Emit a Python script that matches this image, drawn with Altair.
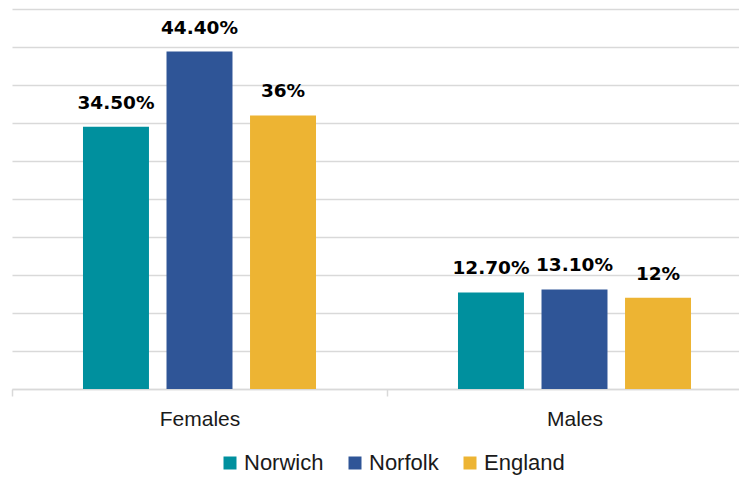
import altair as alt
import pandas as pd

categories = ["Females", "Males"]
series = ["Norwich", "Norfolk", "England"]
norwich = [34.5, 12.7]
norfolk = [44.4, 13.1]
england = [36.0, 12.0]
norwich_labels = ["34.50%", "12.70%"]
norfolk_labels = ["44.40%", "13.10%"]
england_labels = ["36%", "12%"]
colors = ["#00909E", "#2F5597", "#EDB433"]
grid_values = [0, 5, 10, 15, 20, 25, 30, 35, 40, 45, 50]

rows = []
for s, vals, labs in [("Norwich", norwich, norwich_labels),
                      ("Norfolk", norfolk, norfolk_labels),
                      ("England", england, england_labels)]:
    for c, v, l in zip(categories, vals, labs):
        rows.append({"category": c, "series": s, "value": v, "label": l})
df = pd.DataFrame(rows)

x = alt.X("category:N", sort=categories,
          scale=alt.Scale(paddingInner=0, paddingOuter=0, range=[0, 750]),
          axis=alt.Axis(title=None, labelAngle=0, tickBand="extent",
                        domainColor="#D9D9D9", domainWidth=1.5,
                        tickColor="#D9D9D9", tickWidth=1.5, tickSize=7,
                        labelFont="Liberation Sans", labelFontSize=21,
                        labelColor="#1a1a1a", labelPadding=12))
xo = alt.XOffset("series:N", sort=series,
                 scale=alt.Scale(paddingInner=0.21, paddingOuter=0.85))
y = alt.Y("value:Q", scale=alt.Scale(domain=[0, 50], nice=False),
          axis=alt.Axis(title=None, labels=False, ticks=False, domain=False,
                        values=grid_values, grid=True, gridColor="#D9D9D9",
                        gridWidth=1.5))

bars = alt.Chart(df).mark_bar().encode(
    x=x, xOffset=xo, y=y,
    color=alt.Color("series:N", sort=series,
                    scale=alt.Scale(domain=series, range=colors),
                    legend=alt.Legend(title=None, orient="none", direction="horizontal",
                                      legendX=207, legendY=443, padding=0,
                                      symbolType="square", symbolSize=169,
                                      symbolStrokeWidth=0, symbolOpacity=1,
                                      labelFont="Liberation Sans", labelFontSize=22,
                                      labelColor="#1a1a1a", labelOffset=3,
                                      columnPadding=20)),
)

text = alt.Chart(df).mark_text(font="DejaVu Sans", fontWeight="bold", fontSize=18.5,
                               dy=-18, baseline="alphabetic", color="black").encode(
    x=x, xOffset=xo, y=y, text="label:N")

chart = alt.layer(bars, text).properties(
    width=727, height=380,
    autosize=alt.AutoSizeParams(type="none"),
    padding={"left": 4, "top": 1, "right": 0, "bottom": 86},
).configure_view(stroke=None)

chart.save("out.html", embed_options={"renderer": "svg", "actions": False})
